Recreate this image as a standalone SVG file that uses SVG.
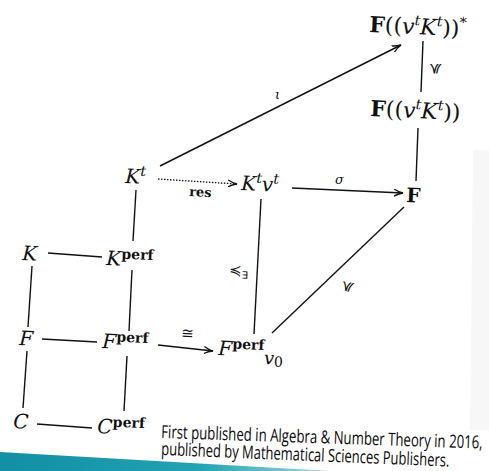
<svg xmlns="http://www.w3.org/2000/svg" width="489" height="471" viewBox="0 0 489 471">
<defs>
<style>
.m{font-family:"DejaVu Serif","Liberation Serif",serif;font-size:20px;fill:#111}
.big{font-size:22px}
.i{font-style:italic}
.b{font-weight:bold}
.sup{font-size:14px}
.lbl{font-family:"DejaVu Serif","Liberation Serif",serif;font-size:13px;fill:#111}
.sym{font-family:"DejaVu Sans",sans-serif;font-size:15px;fill:#111}
.ln{stroke:#111;stroke-width:1.4;fill:none}
.cap{font-family:"Open Sans","Noto Sans",sans-serif;font-size:18px;fill:#0a0a0a}
</style>
<marker id="ah" markerWidth="10" markerHeight="8" refX="9" refY="4" orient="auto" markerUnits="userSpaceOnUse">
<path d="M0,0.5 Q4,3 9,4 Q4,5 0,7.5" fill="none" stroke="#111" stroke-width="1.3"/>
</marker>
<linearGradient id="band" x1="0" y1="0" x2="1" y2="0">
<stop offset="0" stop-color="#128fa3"/>
<stop offset="0.6" stop-color="#22a2b3"/>
<stop offset="1" stop-color="#9fd5dc"/>
</linearGradient>
</defs>
<rect width="489" height="471" fill="#ffffff"/>
<polygon points="473,150 489,150 489,430 470,430" fill="#f7f7f7"/>
<polygon points="0,452 330,471 0,471" fill="url(#band)"/>

<g id="connectors">
<line class="ln" x1="160" y1="166" x2="401" y2="45" marker-end="url(#ah)"/>
<text class="lbl i" x="275" y="99">ι</text>
<line class="ln" x1="423" y1="41" x2="421" y2="92"/>
<text class="sym" x="431" y="74" transform="rotate(-90 436 70)">≼</text>
<line class="ln" x1="418" y1="128" x2="416" y2="181"/>
<line x1="158" y1="179" x2="237" y2="184" stroke="#111" stroke-width="1.3" stroke-dasharray="1.5,1.5" marker-end="url(#ah)"/>
<text class="lbl b" x="189" y="196" font-size="11" transform="rotate(3 189 196)">res</text>
<line class="ln" x1="292" y1="188" x2="403" y2="193" marker-end="url(#ah)"/>
<text class="lbl i" x="335" y="184">σ</text>
<line class="ln" x1="136" y1="190" x2="133" y2="241"/>
<line class="ln" x1="261" y1="199" x2="254" y2="334"/>
<text class="sym" x="229" y="275" transform="rotate(2 229 275)">≼<tspan font-size="10" dy="3">∃</tspan></text>
<line class="ln" x1="404" y1="207" x2="272" y2="333"/>
<text class="sym" x="342" y="293" transform="rotate(-80 347 288)">≼</text>
<line class="ln" x1="48" y1="253" x2="102" y2="257"/>
<line class="ln" x1="32" y1="266" x2="28" y2="327"/>
<line class="ln" x1="132" y1="270" x2="129" y2="331"/>
<line class="ln" x1="42" y1="339" x2="97" y2="342"/>
<line class="ln" x1="158" y1="345" x2="213" y2="351" marker-end="url(#ah)"/>
<text class="sym" x="181" y="338" font-size="12" transform="rotate(3 181 338)">≅</text>
<line class="ln" x1="27" y1="351" x2="23" y2="408"/>
<line class="ln" x1="127" y1="356" x2="124" y2="411"/>
<line class="ln" x1="37" y1="424" x2="92" y2="428"/>
</g>

<g id="n-Fstar" transform="rotate(2.5 369 32)">
<text class="m big" x="369" y="32"><tspan class="b">F</tspan>((<tspan class="i">v</tspan><tspan class="sup i" dy="-9">t</tspan><tspan class="i" dy="9">K</tspan><tspan class="sup i" dy="-9">t</tspan><tspan dy="9">))</tspan><tspan class="sup" dy="-9">*</tspan></text>
</g>
<g id="n-F2" transform="rotate(2.5 370 116)">
<text class="m big" x="370" y="116"><tspan class="b">F</tspan>((<tspan class="i">v</tspan><tspan class="sup i" dy="-9">t</tspan><tspan class="i" dy="9">K</tspan><tspan class="sup i" dy="-9">t</tspan><tspan dy="9">))</tspan></text>
</g>
<g id="n-Kt" transform="rotate(2.5 125 183)">
<text class="m i" x="125" y="183">K<tspan class="sup" dy="-8">t</tspan></text>
</g>
<g id="n-Ktvt" transform="rotate(2.5 241 190)">
<text class="m i" x="241" y="190">K<tspan class="sup" dy="-8">t</tspan><tspan dy="8">v</tspan><tspan class="sup" dy="-8">t</tspan></text>
</g>
<g id="n-Fbold" transform="rotate(2.5 406 202)">
<text class="m b" x="406" y="202">F</text>
</g>
<g id="n-K" transform="rotate(2.5 22 260)">
<text class="m i" x="22" y="260">K</text>
</g>
<g id="n-Kperf" transform="rotate(2.5 106 265)">
<text class="m" x="106" y="265"><tspan class="i">K</tspan><tspan class="sup b" dy="-7">perf</tspan></text>
</g>
<g id="n-F" transform="rotate(2.5 19 345)">
<text class="m i" x="19" y="345">F</text>
</g>
<g id="n-Fperf" transform="rotate(2.5 102 348)">
<text class="m" x="102" y="348"><tspan class="i">F</tspan><tspan class="sup b" dy="-7">perf</tspan></text>
</g>
<g id="n-Fperfv0" transform="rotate(2.5 218 355)">
<text class="m" x="218" y="355"><tspan class="i">F</tspan><tspan class="sup b" dy="-7">perf</tspan><tspan class="i" dy="14" font-size="18">v</tspan><tspan class="sup" dy="2">0</tspan></text>
</g>
<g id="n-C" transform="rotate(2.5 13 428)">
<text class="m i" x="13" y="428">C</text>
</g>
<g id="n-Cperf" transform="rotate(2.5 97 433)">
<text class="m" x="97" y="433"><tspan class="i">C</tspan><tspan class="sup b" dy="-7">perf</tspan></text>
</g>

<g id="caption">
<text class="cap" transform="translate(161 438) rotate(1.9) scale(0.68 1)" x="0" y="0" textLength="473" lengthAdjust="spacingAndGlyphs">First published in Algebra &amp; Number Theory in 2016,</text>
<text class="cap" transform="translate(161 455) rotate(2.3) scale(0.68 1)" x="0" y="0" textLength="424" lengthAdjust="spacingAndGlyphs">published by Mathematical Sciences Publishers.</text>
</g>
</svg>
